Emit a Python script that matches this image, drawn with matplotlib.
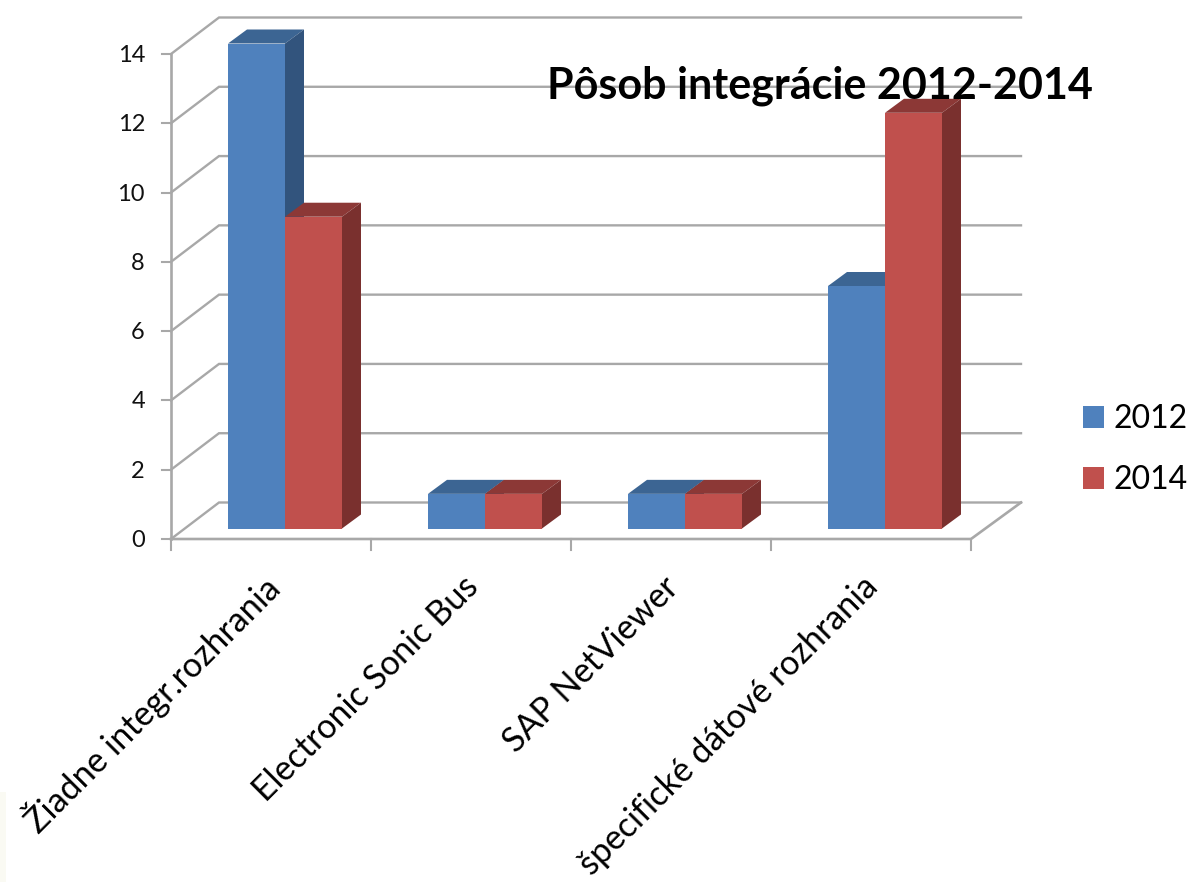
import matplotlib
matplotlib.use("Agg")
import matplotlib.pyplot as plt
from matplotlib.patches import Polygon, Rectangle

plt.rcParams['font.family'] = ['Lato', 'DejaVu Sans']

categories = ["Žiadne integr.rozhrania", "Electronic Sonic Bus", "SAP NetViewer", "špecifické dátové rozhrania"]
series_names = ["2012", "2014"]
values_2012 = [14, 1, 1, 7]
values_2014 = [9, 1, 1, 12]
y_ticks = [0, 2, 4, 6, 8, 10, 12, 14]
title_text = "Pôsob integrácie 2012-2014"

W, H = 1192, 882
fig = plt.figure(figsize=(W / 100, H / 100), dpi=100, facecolor="white")

# pale strip along the lower left edge of the slide
fig.add_artist(Rectangle((0, 0), 6 / W, 90 / H, transform=fig.transFigure, fc="#fafaf3", ec="none"))

# plot box in figure pixels (front plane of the 3-D frame)
left, right, bottom, top = 171, 971, 539, 54
ax = fig.add_axes([left / W, 1 - bottom / H, (right - left) / W, (bottom - top) / H])
ax.set_xlim(0, len(categories))
ax.set_ylim(0, 14)
ax.axis("off")

px_x = len(categories) / (right - left)
px_y = 14 / (bottom - top)

GRID = "#a8a8a8"
wall_dx, wall_dy = 48 * px_x, 36.5 * px_y
wall_end = 1021
wall_right = (wall_end - left) * px_x

# walls: gridlines run up the side wall and along the back wall
for t in y_ticks:
    ax.plot([0, wall_dx, wall_right], [t, t + wall_dy, t + wall_dy],
            color=GRID, lw=1.7, clip_on=False, zorder=1, solid_joinstyle="miter")

# floor front edge and side edge
ax.plot([0, len(categories), wall_right], [0, 0, wall_dy], color=GRID, lw=1.9, clip_on=False, zorder=1)
ax.plot([0, 0], [0, 14], color=GRID, lw=1.9, clip_on=False, zorder=1)

# tick marks
for t in y_ticks:
    ax.plot([-9 * px_x, 0], [t, t], color=GRID, lw=1.5, clip_on=False, zorder=1)
for c in range(len(categories) + 1):
    ax.plot([c, c], [0, -11 * px_y], color=GRID, lw=1.5, clip_on=False, zorder=1)

# bars stand part-way into the floor depth
base_dx, base_dy = 14 * px_x, 10.5 * px_y
depth_dx, depth_dy = 19 * px_x, 14 * px_y
bar_w = 57 * px_x

styles = [("#4f81bd", "#3c6593", "#32547d"), ("#c0504d", "#8c3836", "#7a302e")]
handles = []
for s, (name, vals) in enumerate(zip(series_names, [values_2012, values_2014])):
    front, top_c, side_c = styles[s]
    xs = [i + 0.5 + base_dx + (s - 1) * bar_w for i in range(len(vals))]
    bars = ax.bar(xs, vals, width=bar_w, bottom=base_dy, align="edge", color=front,
                  label=name, zorder=3 + s, clip_on=False, linewidth=0)
    handles.append(bars)
    for x0, v in zip(xs, vals):
        y1 = base_dy + v
        x1 = x0 + bar_w
        ax.add_patch(Polygon([(x0, y1), (x1, y1), (x1 + depth_dx, y1 + depth_dy), (x0 + depth_dx, y1 + depth_dy)],
                             closed=True, fc=top_c, ec="none", zorder=3 + s, clip_on=False))
        ax.add_patch(Polygon([(x1, base_dy), (x1 + depth_dx, base_dy + depth_dy), (x1 + depth_dx, y1 + depth_dy), (x1, y1)],
                             closed=True, fc=side_c, ec="none", zorder=3 + s, clip_on=False))

# value axis labels
for t in y_ticks:
    ax.text(-26 * px_x, t - 1.5 * px_y, str(t), ha="right", va="center",
            fontsize=17, color="#111111", clip_on=False)

# slanted category labels
for i, label in enumerate(categories):
    ax.text(i + 0.5 + 2 * px_x, -43 * px_y, label, rotation=45, rotation_mode="anchor", ha="right", va="center",
            fontsize=24.5, color="black", clip_on=False)

fig.text(547 / W, 1 - 86 / H, title_text, fontsize=31, fontweight="bold", color="black", ha="left", va="center", zorder=10)

legend = fig.legend(handles, series_names, loc="upper left", bbox_to_anchor=(1083 / W, 1 - 404 / H),
                    frameon=False, fontsize=23, handlelength=0.66, handleheight=0.66,
                    handletextpad=0.31, labelspacing=0.98, borderpad=0, borderaxespad=0)

fig.savefig("out.png", dpi=100)
